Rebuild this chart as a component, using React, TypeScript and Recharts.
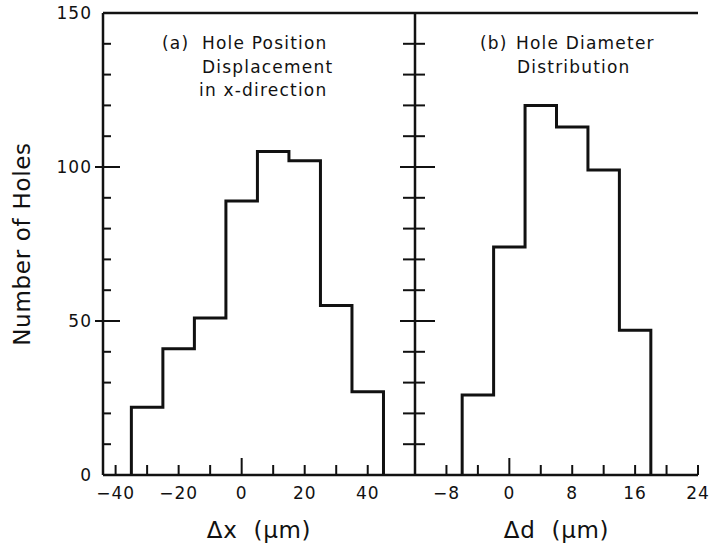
import { Line, LineChart, ReferenceLine, XAxis, YAxis } from "recharts";

// (a) hole position displacement, 10 um bins
const posEdges = [-35, -25, -15, -5, 5, 15, 25, 35, 45];
const posCounts = [22, 41, 51, 89, 105, 102, 55, 27];

// (b) hole diameter distribution, 4 um bins
const diaEdges = [-6, -2, 2, 6, 10, 14, 18];
const diaCounts = [26, 74, 120, 113, 99, 47];

const countTicks = [0, 10, 20, 30, 40, 50, 60, 70, 80, 90, 100, 110, 120, 130, 140, 150];
const countLabels = [0, 50, 100, 150];
const countMajor = [50, 100];

const posTicks = [-40, -30, -20, -10, 0, 10, 20, 30, 40];
const posLabels = [-40, -20, 0, 20, 40];
const diaTicks = [-8, -4, 0, 4, 8, 12, 16, 20, 24];
const diaLabels = [-8, 0, 8, 16, 24];

const INK = "#111";
const FONT = "DejaVu Sans";

function outline(edges: number[], counts: number[]) {
  const last = edges.length - 1;
  return [
    { x: edges[0], n: 0 },
    ...counts.map((n, i) => ({ x: edges[i], n })),
    { x: edges[last], n: counts[counts.length - 1] },
    { x: edges[last], n: 0 },
  ];
}

const posData = outline(posEdges, posCounts);
const diaData = outline(diaEdges, diaCounts);

const tickText = {
  fontFamily: FONT,
  fontSize: 17,
  letterSpacing: 1,
  fill: INK,
};

function bottomTick(labels: number[]) {
  return (p: any) => {
    const v = p.payload.value;
    const len = v === 0 ? 17 : 10;
    return (
      <g>
        <line x1={p.x} x2={p.x} y1={p.y} y2={p.y - len} stroke={INK} strokeWidth={2} />
        {labels.includes(v) && (
          <text x={p.x} y={p.y + 24} textAnchor="middle" {...tickText}>
            {v < 0 ? `\u2212${Math.abs(v)}` : v}
          </text>
        )}
      </g>
    );
  };
}

function leftTick(p: any) {
  const v = p.payload.value;
  const major = countMajor.includes(v);
  return (
    <g>
      <line
        x1={major ? p.x - 8 : p.x}
        x2={major ? p.x + 17 : p.x + 8}
        y1={p.y}
        y2={p.y}
        stroke={INK}
        strokeWidth={2}
      />
      {countLabels.includes(v) && (
        <text x={p.x - 11} y={p.y} dy="0.36em" textAnchor="end" {...tickText}>
          {v}
        </text>
      )}
    </g>
  );
}

function middleTick(p: any) {
  const major = countMajor.includes(p.payload.value);
  return (
    <line
      x1={major ? p.x - 15 : p.x - 12}
      x2={major ? p.x + 20 : p.x + 10}
      y1={p.y}
      y2={p.y}
      stroke={INK}
      strokeWidth={2}
    />
  );
}

function rightTick(p: any) {
  const major = countMajor.includes(p.payload.value);
  return (
    <line x1={major ? p.x - 16 : p.x - 8} x2={p.x} y1={p.y} y2={p.y} stroke={INK} strokeWidth={2} />
  );
}

const axisLine = { stroke: INK, strokeWidth: 2.5 };
const titleStyle = { fontFamily: FONT, fontSize: 23, letterSpacing: 0.7, fill: INK };
const noteStyle = { fontFamily: FONT, fontSize: 17, letterSpacing: 1.2, fill: INK };

export default function App() {
  return (
    <div style={{ position: "absolute", left: 0, top: 0, width: 712, height: 544, background: "#fff" }}>
      <div style={{ position: "absolute", left: 0, top: 0 }}>
        <LineChart width={712} height={544} data={posData} margin={{ top: 13, right: 297, bottom: 0, left: 0 }}>
          <XAxis
            dataKey="x"
            type="number"
            domain={[-44, 55]}
            allowDataOverflow
            ticks={posTicks}
            interval={0}
            tickSize={0}
            tickMargin={0}
            tick={bottomTick(posLabels)}
            tickLine={false}
            axisLine={axisLine}
            height={69}
            label={{ value: "\u0394x\u00A0\u00A0(\u03BCm)", position: "insideBottom", offset: 6, ...titleStyle }}
          />
          <YAxis
            yAxisId="l"
            type="number"
            domain={[0, 150]}
            allowDataOverflow
            ticks={countTicks}
            interval={0}
            tickSize={0}
            tickMargin={0}
            tick={leftTick}
            tickLine={false}
            axisLine={axisLine}
            width={103}
            label={{ value: "Number of Holes", angle: -90, position: "center", dx: -30, ...titleStyle }}
          />
          <ReferenceLine yAxisId="l" y={150} stroke={INK} strokeWidth={2.5} />
          <Line
            yAxisId="l"
            type="stepAfter"
            dataKey="n"
            stroke={INK}
            strokeWidth={3}
            dot={false}
            activeDot={false}
            isAnimationActive={false}
          />
          <text x={162} y={49} {...noteStyle}>(a)</text>
          <text x={202} y={49} {...noteStyle}>Hole Position</text>
          <text x={202} y={73} {...noteStyle}>Displacement</text>
          <text x={199} y={96} {...noteStyle}>in x-direction</text>
        </LineChart>
      </div>
      <div style={{ position: "absolute", left: 0, top: 0 }}>
        <LineChart width={712} height={544} data={diaData} margin={{ top: 13, right: 14, bottom: 0, left: 0 }}>
          <XAxis
            dataKey="x"
            type="number"
            domain={[-12, 24]}
            allowDataOverflow
            ticks={diaTicks}
            interval={0}
            tickSize={0}
            tickMargin={0}
            tick={bottomTick(diaLabels)}
            tickLine={false}
            axisLine={axisLine}
            height={69}
            label={{ value: "\u0394d\u00A0\u00A0(\u03BCm)", position: "insideBottom", offset: 6, ...titleStyle }}
          />
          <YAxis
            yAxisId="l"
            type="number"
            domain={[0, 150]}
            allowDataOverflow
            ticks={countTicks}
            interval={0}
            tickSize={0}
            tickMargin={0}
            tick={middleTick}
            tickLine={false}
            axisLine={axisLine}
            width={415}
          />
          <YAxis
            yAxisId="r"
            orientation="right"
            type="number"
            domain={[0, 150]}
            allowDataOverflow
            ticks={countTicks}
            interval={0}
            tickSize={0}
            tickMargin={0}
            tick={rightTick}
            tickLine={false}
            axisLine={axisLine}
            width={0}
          />
          <ReferenceLine yAxisId="l" y={150} stroke={INK} strokeWidth={2.5} />
          <Line
            yAxisId="l"
            type="stepAfter"
            dataKey="n"
            stroke={INK}
            strokeWidth={3}
            dot={false}
            activeDot={false}
            isAnimationActive={false}
          />
          <text x={480} y={49} {...noteStyle}>(b)</text>
          <text x={516} y={49} {...noteStyle}>Hole Diameter</text>
          <text x={517} y={73} {...noteStyle}>Distribution</text>
        </LineChart>
      </div>
    </div>
  );
}
